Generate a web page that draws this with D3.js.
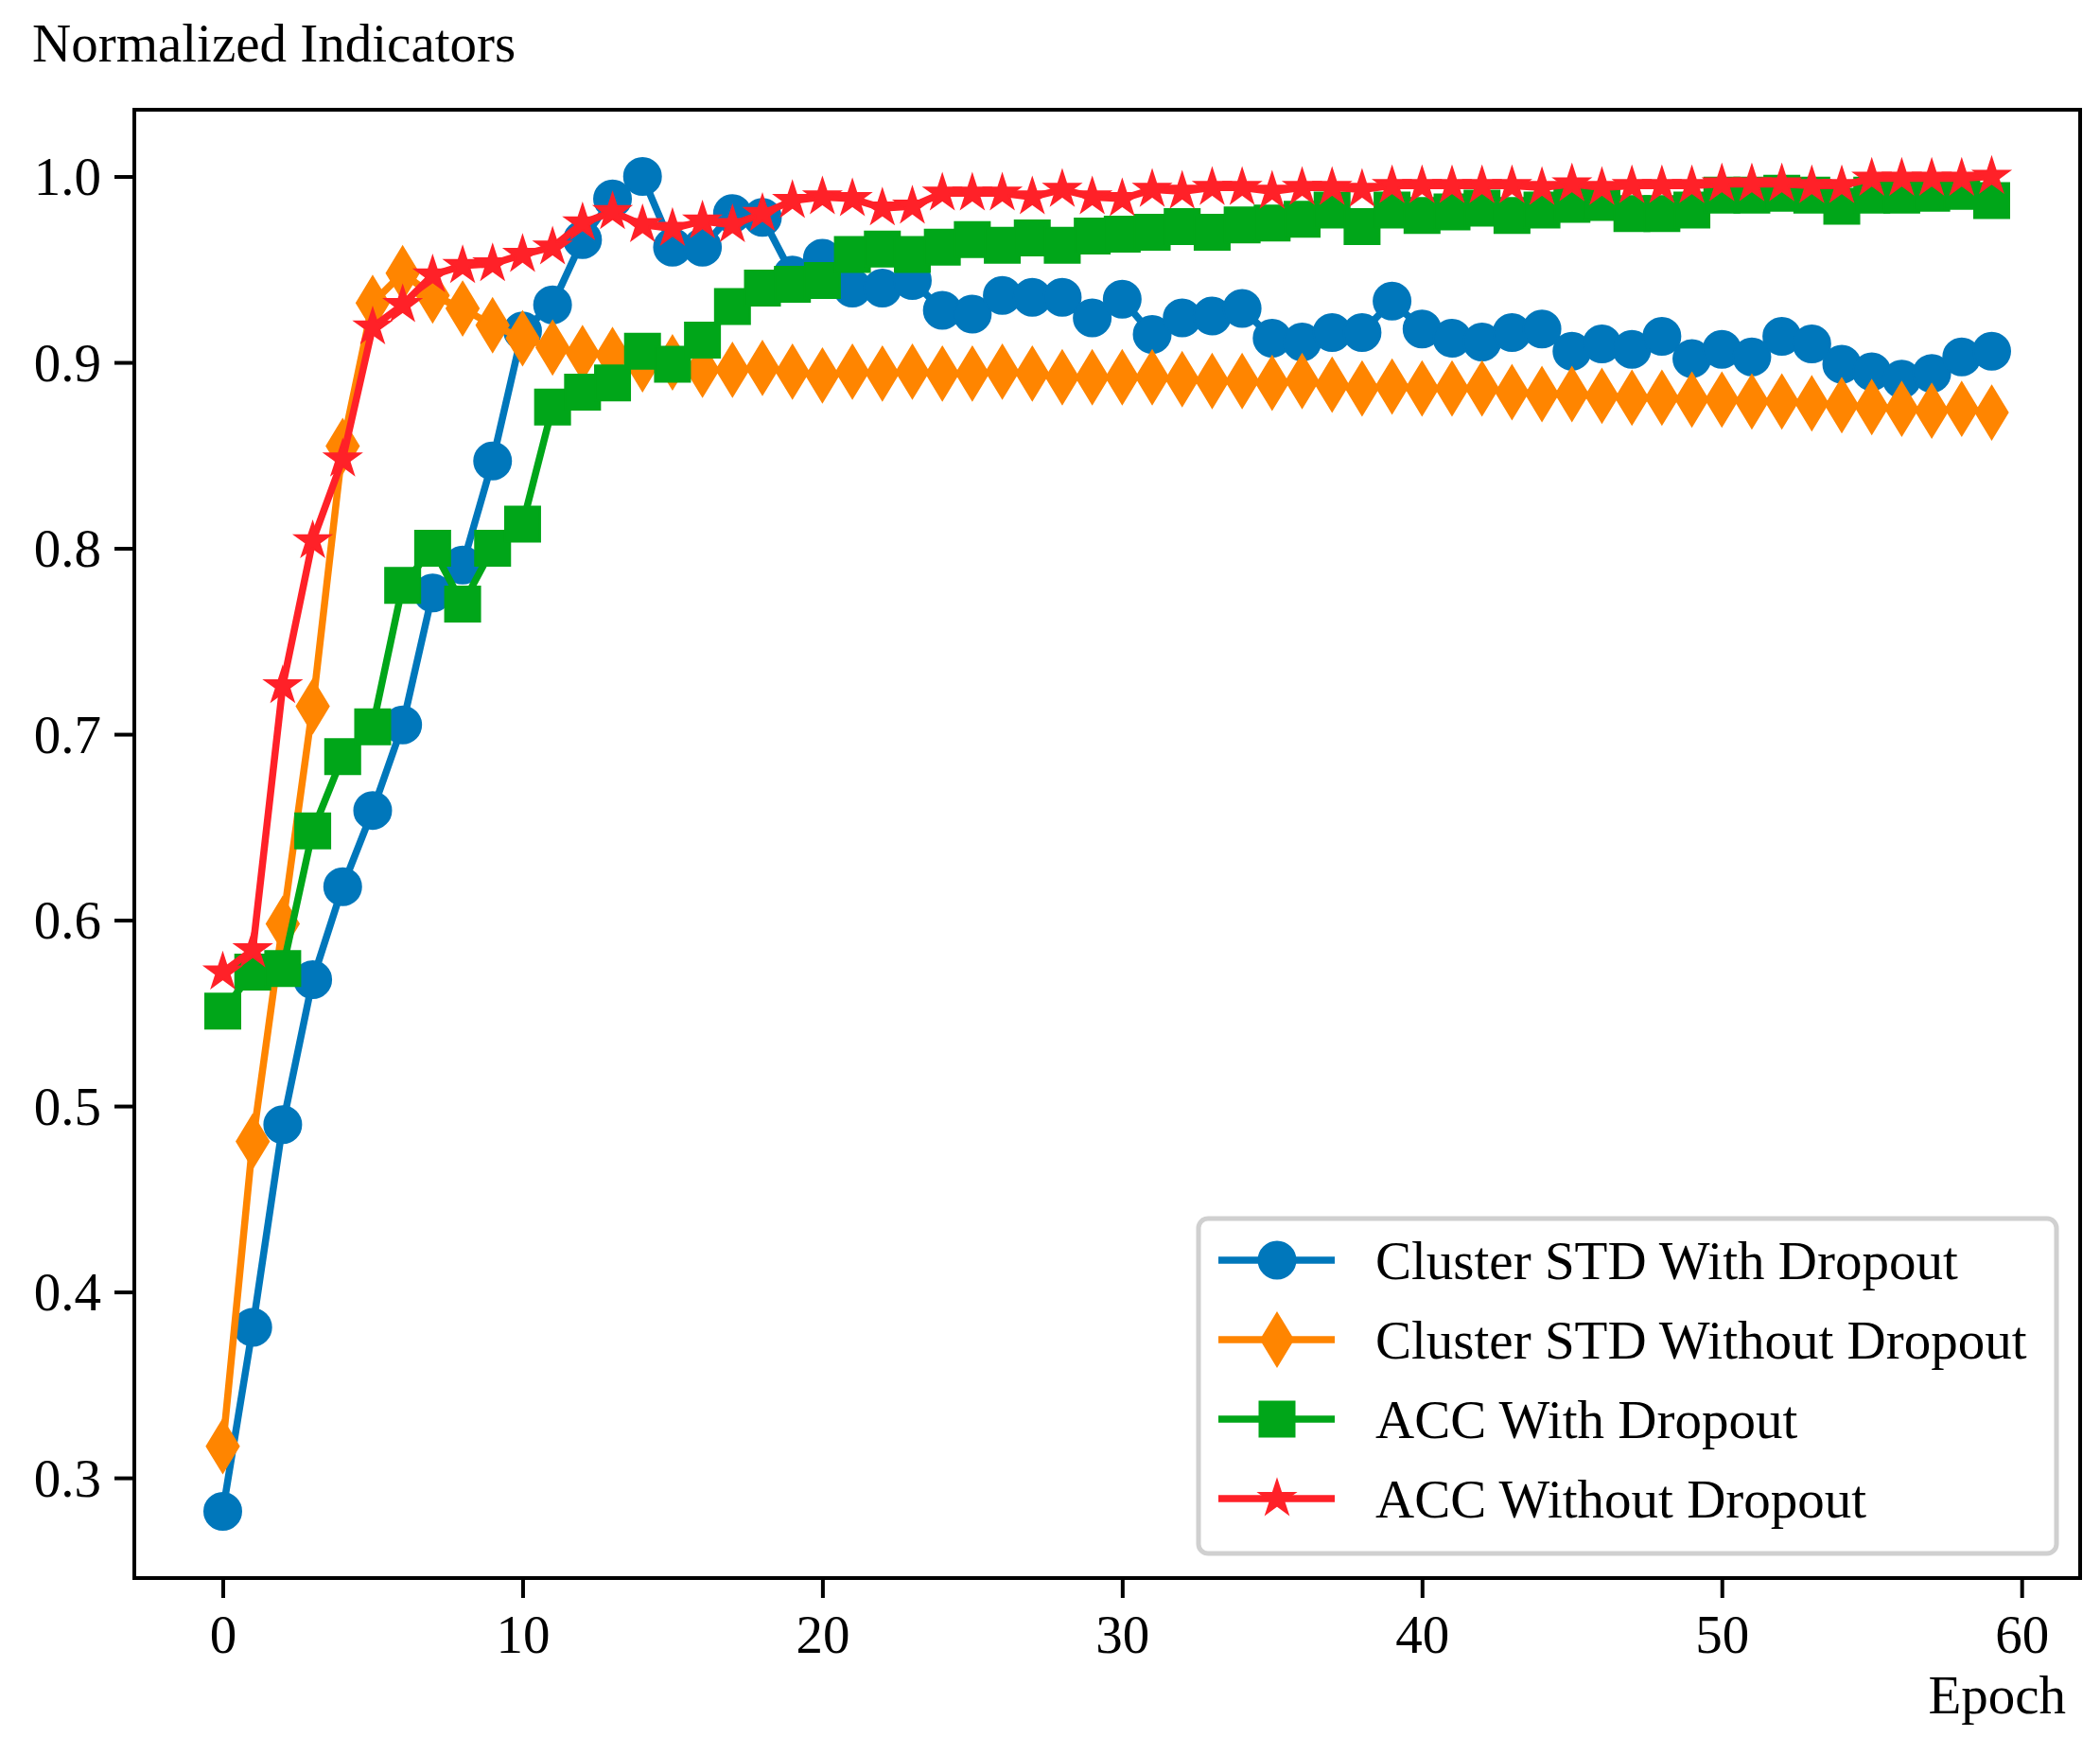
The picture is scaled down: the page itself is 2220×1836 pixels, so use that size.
<!DOCTYPE html>
<html>
<head>
<meta charset="utf-8">
<script src="https://cdn.jsdelivr.net/npm/d3@7/dist/d3.min.js"></script>
<style>
    body { margin: 0; background: #fff; }
    text { font-family: "Liberation Serif", "Times New Roman", serif; fill: #000; }
</style>
</head>
<body>
<svg id="chart" width="2220" height="1836"></svg>
<script>
'use strict';

// epochs on the x axis
var epochs = d3.range(0, 60);

var seriesNames = [
    'Cluster STD With Dropout',
    'Cluster STD Without Dropout',
    'ACC With Dropout',
    'ACC Without Dropout'
];

var clusterStdWithDropout = [
    0.282, 0.381, 0.490, 0.568, 0.618, 0.659, 0.705, 0.776, 0.791, 0.847,
    0.917, 0.931, 0.966, 0.988, 1.000, 0.962, 0.962, 0.980, 0.978, 0.947,
    0.956, 0.940, 0.940, 0.944, 0.928, 0.926, 0.936, 0.935, 0.935, 0.924,
    0.934, 0.915, 0.924, 0.925, 0.929, 0.913, 0.911, 0.916, 0.916, 0.933,
    0.918, 0.913, 0.911, 0.916, 0.918, 0.906, 0.910, 0.907, 0.914, 0.902,
    0.907, 0.903, 0.914, 0.910, 0.899, 0.895, 0.891, 0.894, 0.903, 0.906
];

var clusterStdWithoutDropout = [
    0.317, 0.481, 0.598, 0.715, 0.855, 0.932, 0.948, 0.936, 0.929, 0.920,
    0.913, 0.908, 0.905, 0.904, 0.899, 0.900, 0.896, 0.896, 0.897, 0.895,
    0.893, 0.895, 0.894, 0.895, 0.894, 0.894, 0.895, 0.894, 0.892, 0.892,
    0.892, 0.892, 0.891, 0.890, 0.890, 0.889, 0.890, 0.888, 0.886, 0.887,
    0.886, 0.886, 0.886, 0.884, 0.883, 0.883, 0.882, 0.881, 0.881, 0.880,
    0.880, 0.879, 0.879, 0.878, 0.877, 0.876, 0.875, 0.874, 0.875, 0.873
];

var accWithDropout = [
    0.551, 0.572, 0.574, 0.648, 0.688, 0.704, 0.780, 0.800, 0.770, 0.800,
    0.813, 0.876, 0.884, 0.889, 0.906, 0.899, 0.912, 0.930, 0.940, 0.942,
    0.944, 0.958, 0.961, 0.958, 0.962, 0.966, 0.963, 0.967, 0.963, 0.968,
    0.969, 0.970, 0.973, 0.970, 0.974, 0.975, 0.977, 0.982, 0.973, 0.982,
    0.979, 0.981, 0.983, 0.979, 0.982, 0.985, 0.986, 0.980, 0.980, 0.982,
    0.990, 0.990, 0.991, 0.990, 0.984, 0.990, 0.990, 0.991, 0.992, 0.987
];

var accWithoutDropout = [
    0.572, 0.584, 0.726, 0.804, 0.848, 0.919, 0.931, 0.947, 0.952, 0.953,
    0.958, 0.962, 0.975, 0.981, 0.974, 0.972, 0.976, 0.974, 0.980, 0.987,
    0.989, 0.988, 0.983, 0.984, 0.991, 0.991, 0.991, 0.989, 0.993, 0.989,
    0.988, 0.993, 0.992, 0.994, 0.994, 0.992, 0.994, 0.994, 0.993, 0.995,
    0.995, 0.995, 0.995, 0.995, 0.994, 0.996, 0.994, 0.995, 0.995, 0.995,
    0.996, 0.996, 0.996, 0.995, 0.995, 0.999, 0.999, 0.999, 0.999, 1.000
];

var xTicks = [0, 10, 20, 30, 40, 50, 60];
var yTicks = [0.3, 0.4, 0.5, 0.6, 0.7, 0.8, 0.9, 1.0];

var colors = ['#0077bb', '#ff8500', '#00a619', '#ff2128'];
var markers = ['circle', 'thin_diamond', 'square', 'star'];

var series = [clusterStdWithDropout, clusterStdWithoutDropout, accWithDropout, accWithoutDropout];

/**
 * Plot box (matplotlib-like axes with 5% margins)
 */
var box = { left: 142, right: 2199, top: 116, bottom: 1668 };

var x = d3.scaleLinear()
    .domain([-2.95, 61.95])
    .range([box.left, box.right]);

var y = d3.scaleLinear()
    .domain([0.2461, 1.0359])
    .range([box.bottom, box.top]);

var svg = d3.select('#chart');

svg.append('rect')
    .attr('width', 2220)
    .attr('height', 1836)
    .attr('fill', '#fff');

/**
 * Marker path generators, sizes in px
 */
function markerPath(type) {
    var p = d3.path();
    if (type === 'circle') {
        p.arc(0, 0, 19.5, 0, 2 * Math.PI);
    } else if (type === 'square') {
        p.rect(-18.5, -18.5, 37, 37);
    } else if (type === 'thin_diamond') {
        p.moveTo(0, -28);
        p.lineTo(17, 0);
        p.lineTo(0, 28);
        p.lineTo(-17, 0);
    } else if (type === 'star') {
        var R = 19.5, r = 19.5 * 0.381966;
        for (var i = 0; i < 10; i++) {
            var rad = (i % 2 === 0) ? R : r;
            var a = -Math.PI / 2 + i * Math.PI / 5;
            if (i === 0) {
                p.moveTo(rad * Math.cos(a), rad * Math.sin(a));
            } else {
                p.lineTo(rad * Math.cos(a), rad * Math.sin(a));
            }
        }
    }
    p.closePath();
    return p.toString();
}

// axes, drawn with d3.axis then restyled
var xAxis = svg.append('g')
    .attr('transform', 'translate(0,' + box.bottom + ')')
    .call(d3.axisBottom(x).tickValues(xTicks).tickSize(21).tickPadding(14).tickFormat(d3.format('d')));

var yAxis = svg.append('g')
    .attr('transform', 'translate(' + box.left + ',0)')
    .call(d3.axisLeft(y).tickValues(yTicks).tickSize(21).tickPadding(14).tickFormat(d3.format('.1f')));

[xAxis, yAxis].forEach(function (g) {
    g.select('.domain').remove();
    g.selectAll('.tick line').attr('stroke', '#000').attr('stroke-width', 4);
    g.selectAll('.tick text')
        .attr('font-family', '"Liberation Serif", "Times New Roman", serif')
        .attr('font-size', 57)
        .attr('fill', '#000');
});
xAxis.selectAll('.tick text').attr('dy', '0.78em');
yAxis.selectAll('.tick text').attr('dy', '0.34em');

// the lines + markers
var line = d3.line()
    .x(function (d) { return x(d.e); })
    .y(function (d) { return y(d.v); });

var plot = svg.append('g');

series.forEach(function (values, si) {
    var pts = epochs.map(function (e, i) { return { e: e, v: values[i] }; });
    var g = plot.append('g');

    g.append('path')
        .datum(pts)
        .attr('d', line)
        .attr('fill', 'none')
        .attr('stroke', colors[si])
        .attr('stroke-width', 7.5)
        .attr('stroke-linejoin', 'round');

    g.selectAll('path.mk')
        .data(pts)
        .enter().append('path')
        .attr('class', 'mk')
        .attr('d', markerPath(markers[si]))
        .attr('transform', function (d) { return 'translate(' + x(d.e) + ',' + y(d.v) + ')'; })
        .attr('fill', colors[si])
        .attr('stroke', colors[si])
        .attr('stroke-width', 2);
});

// frame
svg.append('rect')
    .attr('x', box.left)
    .attr('y', box.top)
    .attr('width', box.right - box.left)
    .attr('height', box.bottom - box.top)
    .attr('fill', 'none')
    .attr('stroke', '#000')
    .attr('stroke-width', 4);

// axis titles
svg.append('text')
    .attr('x', 34)
    .attr('y', 65)
    .attr('font-size', 57)
    .text('Normalized Indicators');

svg.append('text')
    .attr('x', 2184)
    .attr('y', 1811)
    .attr('text-anchor', 'end')
    .attr('font-size', 57)
    .text('Epoch');

/**
 * Legend
 */
var legend = svg.append('g');

legend.append('rect')
    .attr('x', 1267)
    .attr('y', 1288)
    .attr('width', 907)
    .attr('height', 354)
    .attr('rx', 10)
    .attr('fill', '#fff')
    .attr('fill-opacity', 0.8)
    .attr('stroke', '#d0d0d0')
    .attr('stroke-width', 5);

seriesNames.forEach(function (name, i) {
    var cy = 1332 + i * 84;
    var row = legend.append('g');

    row.append('line')
        .attr('x1', 1288)
        .attr('x2', 1411)
        .attr('y1', cy)
        .attr('y2', cy)
        .attr('stroke', colors[i])
        .attr('stroke-width', 7.5);

    row.append('path')
        .attr('d', markerPath(markers[i]))
        .attr('transform', 'translate(1350,' + cy + ')')
        .attr('fill', colors[i])
        .attr('stroke', colors[i])
        .attr('stroke-width', 2);

    row.append('text')
        .attr('x', 1454)
        .attr('y', cy + 20)
        .attr('font-size', 57)
        .text(name);
});
</script>
</body>
</html>
